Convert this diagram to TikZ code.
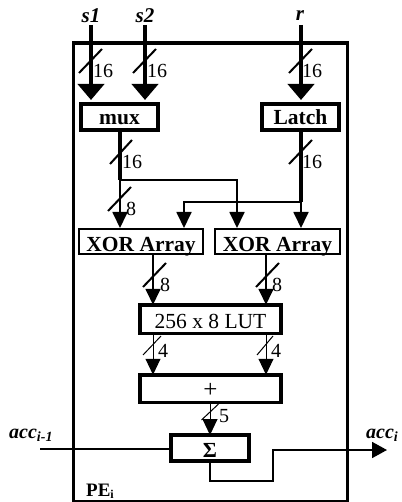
\documentclass[tikz,border=0pt]{standalone}
\usepackage{fontspec}
\setmainfont{Liberation Serif}
\usetikzlibrary{arrows.meta}
\tikzset{
  x=1pt,y=-1pt,
  boxbase/.style={draw,outer sep=0pt,inner sep=0pt,text depth=0pt,font=\fontsize{21.5}{22}\selectfont},
  heavybox/.style={boxbase,line width=4pt},
  midbox/.style={boxbase,line width=2pt},
  bigtip/.style={-{Triangle[length=16pt,width=26pt]}},
  smalltip/.style={-{Triangle[length=16pt,width=15pt]}},
  busthick/.style={line width=4pt},
  busmid/.style={line width=1.8pt},
  busthin/.style={line width=1pt},
  slashthick/.style={line width=2pt},
  slashthin/.style={line width=1pt},
  numlabel/.style={font=\fontsize{20}{21}\selectfont,inner sep=0pt},
  siglabel/.style={font=\fontsize{21}{22}\selectfont\bfseries\itshape,inner sep=0pt},
}
\begin{document}
\begin{tikzpicture}
\useasboundingbox (0,0) rectangle (401,502);
\node[draw,line width=3.2pt,outer sep=0pt,inner sep=0pt,minimum width=274pt,minimum height=458.5pt] (pe) at (210.5,272.25) {};
\node[heavybox,text height=16pt,minimum width=77pt,minimum height=26pt] (mux) at (119.5,117) {\textbf{mux}};
\node[heavybox,text height=16pt,minimum width=77pt,minimum height=26pt] (latch) at (300.5,117) {\textbf{Latch}};
\node[midbox,text height=19pt,minimum width=124pt,minimum height=25pt] (xa) at (141,241.5) {\textbf{XOR Array}};
\node[midbox,text height=19pt,minimum width=125pt,minimum height=25pt] (xb) at (277.5,241.5) {\textbf{XOR Array}};
\node[boxbase,text height=18pt,line width=3.5pt,minimum width=141pt,minimum height=28.5pt] (lut) at (210.5,319) {256 x 8 LUT};
\node[boxbase,font=\fontsize{25}{26}\selectfont,text height=18pt,line width=3.5pt,minimum width=141pt,minimum height=27.5pt] (plus) at (210.5,388.5) {+};
\node[heavybox,text height=18pt,minimum width=78pt,minimum height=26pt] (sum) at (210,448) {\textbf{Σ}};
\coordinate (s1) at (91,25);
\coordinate (s2) at (145,25);
\coordinate (r) at (301,25);
\coordinate (mo) at (120,132);
\coordinate (mj) at (120,180);
\coordinate (lj) at (301,202);
\coordinate (xa1) at (120,228);
\coordinate (xa2) at (184,228);
\coordinate (xb1) at (237,228);
\coordinate (xb2) at (301,228);
\coordinate (o1) at (153,255);
\coordinate (o2) at (266,255);
\coordinate (inL) at (40,449);
\coordinate (outR) at (387,450);
% inputs
\draw[busthick,bigtip] (s1) -- (91,100);
\draw[busthick,bigtip] (s2) -- (145,100);
\draw[busthick,bigtip] (r) -- (301,100);
% mux / latch outputs
\draw[busthick] (mo |- mux.south) -- (mj);
\draw[busthick] (r |- latch.south) -- (lj);
\draw[busmid,smalltip] (mj) -- (xa1);
\draw[busmid,smalltip] (mj) -- (mj -| xb1) -- (xb1);
\draw[busmid,smalltip] (lj) -- (xb2);
\draw[busmid,smalltip] (lj) -- (lj -| xa2) -- (xa2);
% XOR to LUT to plus
\draw[busmid,smalltip] (o1) -- (o1 |- lut.north);
\draw[busmid,smalltip] (o2) -- (o2 |- lut.north);
\draw[busthin,smalltip] (o1 |- lut.south) -- (o1 |- plus.north);
\draw[busthin,smalltip] (o2 |- lut.south) -- (o2 |- plus.north);
\draw[busthin,smalltip] (plus.south) -- (plus.south -| sum.north) -- (sum.north);
% accumulator
\draw[busmid] (inL) -- (inL -| sum.west);
\draw[busmid,-{Triangle[length=15pt,width=16pt]}] (sum.south) |- (273,481) |- (outR);
% slashes
\draw[slashthick] (91,61) +(-12,12) -- +(11,-12);
\draw[slashthick] (145,61) +(-12,12) -- +(11,-12);
\draw[slashthick] (301,61) +(-12,12) -- +(11,-12);
\draw[slashthick] (120,152) +(-10,12) -- +(12,-12);
\draw[slashthick] (301,152) +(-12,12) -- +(11,-12);
\draw[slashthick] (120,199) +(-12,12) -- +(11,-12);
\draw[slashthick] (153,275) +(-10,12) -- +(13,-12);
\draw[slashthick] (266,275) +(-10,12) -- +(13,-12);
\draw[slashthin] (153,346) +(-10,9) -- +(8,-10);
\draw[slashthin] (266,346) +(-9,9) -- +(7,-10);
\draw[slashthin] (210.5,412) +(-9,8) -- +(8,-8);
% bit-width labels
\node[numlabel] (n1) at (103,71) {16};
\node[numlabel] (n2) at (157,71) {16};
\node[numlabel] (n3) at (312,71) {16};
\node[numlabel] (n4) at (132,162) {16};
\node[numlabel] (n5) at (312,162) {16};
\node[numlabel] (n6) at (131,209) {8};
\node[numlabel] (n7) at (165,285) {8};
\node[numlabel] (n8) at (277,285) {8};
\node[numlabel] (n9) at (163,351) {4};
\node[numlabel] (n10) at (276,351) {4};
\node[numlabel] (n11) at (224,416) {5};
% signals
\node[siglabel] (ls1) at (91,16) {s1};
\node[siglabel] (ls2) at (145,16) {s2};
\node[siglabel] (lr) at (300,16) {r};
\node[siglabel,anchor=base west,font=\fontsize{20}{22}\selectfont\bfseries\itshape] (la) at (9,438) {acc\textsubscript{i-1}};
\node[siglabel,anchor=base west,font=\fontsize{20}{22}\selectfont\bfseries\itshape] (lb) at (366,438) {acc\textsubscript{i}};
\node[anchor=base west,inner sep=0pt,font=\fontsize{19}{20}\selectfont\bfseries] (lpe) at (86,496) {PE\raisebox{-2pt}{\fontsize{12}{12}\selectfont i}};
\end{tikzpicture}
\end{document}
